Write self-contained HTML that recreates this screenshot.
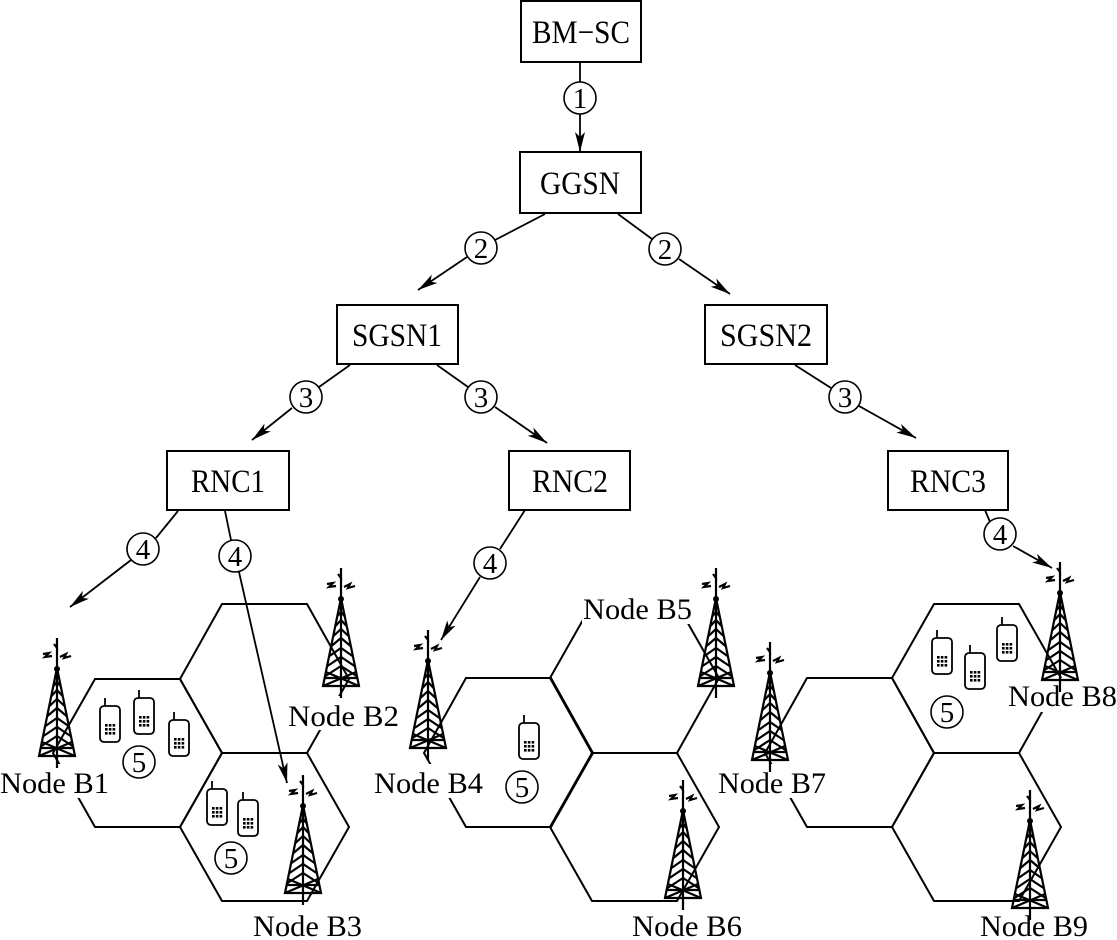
<!DOCTYPE html>
<html><head><meta charset="utf-8"><style>
html,body{margin:0;padding:0;background:#fff;}
svg{display:block;}
svg text{font-family:"Liberation Serif","Noto Serif CJK SC","Noto Serif CJK JP",serif;}
</style></head><body>
<svg width="1117" height="940" viewBox="0 0 1117 940" xmlns="http://www.w3.org/2000/svg">
<defs>
<marker id="ah" viewBox="0 0 20 10" refX="20" refY="5" markerWidth="20" markerHeight="10" markerUnits="userSpaceOnUse" orient="auto">
<path d="M0,0 L20,5 L0,10 L5,5 Z" fill="#000"/>
</marker>
<symbol id="tower" viewBox="-20 -30 40 130" overflow="visible">
<g stroke="#000" stroke-width="2.2" fill="none">
<path d="M-14,-14 l6,-1 l-4,4 l7,-1 M3,-11 l6,-3 l-2,4 l7,-2 M0,-30 l0,10 l-3,-4"/>
<line x1="0" y1="-20" x2="0" y2="2"/>
<path d="M0,0 L-18,88 L18,88 Z"/>
<line x1="0" y1="0" x2="0" y2="100"/>
<path d="M-3.5,18 L0,14 L3.5,18 M-5.5,28 L0,22 L5.5,28 M-7.5,38 L0,31 L7.5,38 M-9.5,48 L0,40 L9.5,48 M-11.5,58 L0,50 L11.5,58 M-13.5,68 L0,59 L13.5,68 M-15.5,78 L0,68 L15.5,78"/>
<path d="M-15,74 L18,88 M15,74 L-18,88 M-16,80 L16,80"/>
</g>
<circle cx="0" cy="1" r="3" fill="#000"/>
</symbol>
<symbol id="phone" viewBox="0 0 24 44" overflow="visible">
<g stroke="#000" stroke-width="1.8" fill="#fff">
<line x1="6" y1="0" x2="6" y2="8"/>
<rect x="1" y="8" width="20" height="36" rx="4"/>
</g>
<g fill="#000">
<rect x="6" y="26" width="2.6" height="2.6"/><rect x="9.8" y="26" width="2.6" height="2.6"/><rect x="13.6" y="26" width="2.6" height="2.6"/>
<rect x="6" y="30" width="2.6" height="2.6"/><rect x="9.8" y="30" width="2.6" height="2.6"/><rect x="13.6" y="30" width="2.6" height="2.6"/>
<rect x="6" y="34" width="2.6" height="2.6"/><rect x="9.8" y="34" width="2.6" height="2.6"/><rect x="13.6" y="34" width="2.6" height="2.6"/>
</g>
</symbol>
</defs>

<g stroke="#000" stroke-width="2" fill="none">
<polygon points="95,679 180,679 222,753 180,827 95,827 53,753"/>
<polygon points="222,604 307,604 349,679 307,753 222,753 180,679"/>
<polygon points="222,753 307,753 349,827 307,901 222,901 180,827"/>
<polygon points="466,678 551,678 593,753 551,827 466,827 424,753"/>
<polygon points="592,604 677,604 719,678 677,753 592,753 550,678"/>
<polygon points="592,753 677,753 719,827 677,901 592,901 550,827"/>
<polygon points="807,678 892,678 934,753 892,827 807,827 765,753"/>
<polygon points="934,604 1019,604 1061,678 1019,753 934,753 892,678"/>
<polygon points="934,753 1019,753 1061,827 1019,901 934,901 892,827"/>
</g>

<g fill="#fff">
<rect x="0" y="764" width="110" height="34"/>
<rect x="287" y="696" width="114" height="34"/>
<rect x="373" y="764" width="111" height="34"/>
<rect x="582" y="590" width="110" height="34"/>
<rect x="717" y="764" width="110" height="34"/>
<rect x="1006" y="678" width="111" height="34"/>
</g>

<g>
<use href="#tower" x="37" y="638" width="40" height="130"/>
<use href="#tower" x="321" y="568" width="40" height="130"/>
<use href="#tower" x="283" y="775" width="40" height="130"/>
<use href="#tower" x="408" y="630" width="40" height="130"/>
<use href="#tower" x="696" y="568" width="40" height="130"/>
<use href="#tower" x="663" y="780" width="40" height="130"/>
<use href="#tower" x="750" y="642" width="40" height="130"/>
<use href="#tower" x="1040" y="562" width="40" height="130"/>
<use href="#tower" x="1010" y="790" width="40" height="130"/>
</g>

<g>
<use href="#phone" x="99" y="698" width="24" height="44"/>
<use href="#phone" x="133" y="690" width="24" height="44"/>
<use href="#phone" x="168" y="712" width="24" height="44"/>
<use href="#phone" x="206" y="781" width="24" height="44"/>
<use href="#phone" x="237" y="792" width="24" height="44"/>
<use href="#phone" x="518" y="715" width="24" height="44"/>
<use href="#phone" x="931" y="630" width="24" height="44"/>
<use href="#phone" x="964" y="645" width="24" height="44"/>
<use href="#phone" x="996" y="617" width="24" height="44"/>
</g>

<g stroke="#000" stroke-width="2" fill="#fff">
<rect x="521" y="1" width="120" height="61"/>
<rect x="520" y="152" width="121" height="61"/>
<rect x="337" y="305" width="121" height="59"/>
<rect x="705" y="305" width="122" height="59"/>
<rect x="167" y="451" width="122" height="59"/>
<rect x="509" y="451" width="121" height="59"/>
<rect x="888" y="451" width="120" height="59"/>
</g>
<g font-size="33" text-anchor="middle" fill="#000">
<text x="581" y="43" textLength="98" lengthAdjust="spacingAndGlyphs">BM−SC</text>
<text x="580" y="194" textLength="80" lengthAdjust="spacingAndGlyphs">GGSN</text>
<text x="397" y="346" textLength="90" lengthAdjust="spacingAndGlyphs">SGSN1</text>
<text x="766" y="346" textLength="92" lengthAdjust="spacingAndGlyphs">SGSN2</text>
<text x="228" y="492" textLength="74" lengthAdjust="spacingAndGlyphs">RNC1</text>
<text x="570" y="492" textLength="76" lengthAdjust="spacingAndGlyphs">RNC2</text>
<text x="948" y="492" textLength="76" lengthAdjust="spacingAndGlyphs">RNC3</text>
</g>

<g stroke="#000" stroke-width="1.8" fill="none">
<line x1="580" y1="62" x2="580" y2="82"/>
<line x1="580" y1="114" x2="580" y2="152" marker-end="url(#ah)"/>
<line x1="545" y1="214" x2="495" y2="240"/>
<line x1="467" y1="257" x2="418" y2="290" marker-end="url(#ah)"/>
<line x1="618" y1="214" x2="652" y2="239"/>
<line x1="679" y1="259" x2="730" y2="294" marker-end="url(#ah)"/>
<line x1="350" y1="365" x2="319" y2="387"/>
<line x1="292" y1="408" x2="252" y2="440" marker-end="url(#ah)"/>
<line x1="437" y1="365" x2="468" y2="387"/>
<line x1="495" y1="407" x2="547" y2="443" marker-end="url(#ah)"/>
<line x1="795" y1="365" x2="831" y2="388"/>
<line x1="859" y1="406" x2="916" y2="438" marker-end="url(#ah)"/>
<line x1="178" y1="511" x2="156" y2="538"/>
<line x1="131" y1="560" x2="70" y2="607" marker-end="url(#ah)"/>
<line x1="225" y1="511" x2="231" y2="540"/>
<line x1="239" y1="572" x2="287" y2="783" marker-end="url(#ah)"/>
<line x1="525" y1="510" x2="500" y2="549"/>
<line x1="480" y1="577" x2="441" y2="640" marker-end="url(#ah)"/>
<line x1="985" y1="510" x2="990" y2="522"/>
<line x1="1013" y1="546" x2="1052" y2="568" marker-end="url(#ah)"/>
</g>

<g stroke="#000" stroke-width="1.6" fill="#fff">
<circle cx="580" cy="98" r="16"/>
<circle cx="481" cy="248" r="16"/>
<circle cx="665" cy="249" r="16"/>
<circle cx="306" cy="397" r="16"/>
<circle cx="481" cy="397" r="16"/>
<circle cx="845" cy="397" r="16"/>
<circle cx="143" cy="549" r="16"/>
<circle cx="235" cy="556" r="16"/>
<circle cx="490" cy="563" r="16"/>
<circle cx="1000" cy="534" r="16"/>
<circle cx="139" cy="762" r="16"/>
<circle cx="231" cy="858" r="16"/>
<circle cx="522" cy="787" r="16"/>
<circle cx="947" cy="712" r="16"/>
</g>
<g font-size="29" text-anchor="middle" fill="#000">
<text x="580" y="108">1</text>
<text x="481" y="258">2</text>
<text x="665" y="259">2</text>
<text x="306" y="407">3</text>
<text x="481" y="407">3</text>
<text x="845" y="407">3</text>
<text x="143" y="559">4</text>
<text x="235" y="566">4</text>
<text x="490" y="573">4</text>
<text x="1000" y="544">4</text>
<text x="139" y="772">5</text>
<text x="231" y="868">5</text>
<text x="522" y="797">5</text>
<text x="947" y="722">5</text>
</g>

<g font-size="30" fill="#000">
<text x="0" y="793" textLength="109" lengthAdjust="spacingAndGlyphs">Node B1</text>
<text x="288" y="726" textLength="111" lengthAdjust="spacingAndGlyphs">Node B2</text>
<text x="253" y="936" textLength="109" lengthAdjust="spacingAndGlyphs">Node B3</text>
<text x="374" y="793" textLength="109" lengthAdjust="spacingAndGlyphs">Node B4</text>
<text x="583" y="619" textLength="109" lengthAdjust="spacingAndGlyphs">Node B5</text>
<text x="632" y="936" textLength="110" lengthAdjust="spacingAndGlyphs">Node B6</text>
<text x="718" y="793" textLength="108" lengthAdjust="spacingAndGlyphs">Node B7</text>
<text x="1008" y="706" textLength="109" lengthAdjust="spacingAndGlyphs">Node B8</text>
<text x="980" y="936" textLength="108" lengthAdjust="spacingAndGlyphs">Node B9</text>
</g>
</svg>
</body></html>
